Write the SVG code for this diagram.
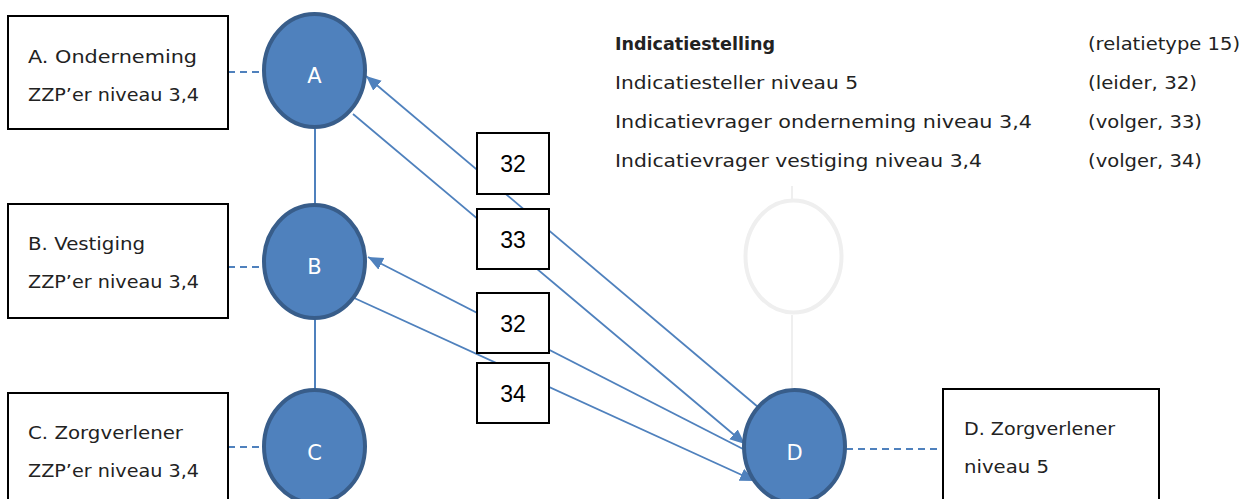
<svg xmlns="http://www.w3.org/2000/svg" width="1255" height="499" viewBox="0 0 1255 499">
<style>
.box{fill:#fff;stroke:#000;stroke-width:2}
.lbl{font-family:"DejaVu Sans",sans-serif;font-size:18px;fill:#222}
.node{fill:#4F81BD;stroke:#385D8A;stroke-width:4}
.ghost{fill:none;stroke:#EFEFEF;stroke-width:4}
.nt{font-family:"DejaVu Sans",sans-serif;font-size:21px;fill:#fff;text-anchor:middle}
.dash{stroke:#4F81BD;stroke-width:2;stroke-dasharray:7,5;fill:none}
.vl{stroke:#4F81BD;stroke-width:2;fill:none}
.gl{stroke:#EFEFEF;stroke-width:2;fill:none}
.arr{stroke:#4F81BD;stroke-width:1.8;fill:none;marker-end:url(#ah)}
.nb{fill:#fff;stroke:#000;stroke-width:2}
.num{font-family:"Liberation Sans",Arial,sans-serif;font-size:23px;fill:#000;text-anchor:middle}
.leg{font-family:"DejaVu Sans",sans-serif;font-size:18px;fill:#222}
</style>
<defs>
<marker id="ah" markerUnits="userSpaceOnUse" markerWidth="16" markerHeight="14" refX="15" refY="6.5" orient="auto">
<path d="M0,0 L15,6.5 L0,13 z" fill="#4F81BD"/>
</marker>
</defs>
<rect width="1255" height="499" fill="#fff"/>

<g id="legend">
<text class="leg" x="615" y="50" font-weight="bold" textLength="160" lengthAdjust="spacingAndGlyphs">Indicatiestelling</text>
<text class="leg" x="615" y="89" textLength="243" lengthAdjust="spacingAndGlyphs">Indicatiesteller niveau 5</text>
<text class="leg" x="615" y="128" textLength="417" lengthAdjust="spacingAndGlyphs">Indicatievrager onderneming niveau 3,4</text>
<text class="leg" x="615" y="167" textLength="367" lengthAdjust="spacingAndGlyphs">Indicatievrager vestiging niveau 3,4</text>
<text class="leg" x="1088" y="50" textLength="152" lengthAdjust="spacingAndGlyphs">(relatietype 15)</text>
<text class="leg" x="1088" y="89" textLength="109" lengthAdjust="spacingAndGlyphs">(leider, 32)</text>
<text class="leg" x="1088" y="128" textLength="114" lengthAdjust="spacingAndGlyphs">(volger, 33)</text>
<text class="leg" x="1088" y="167" textLength="114" lengthAdjust="spacingAndGlyphs">(volger, 34)</text>
</g>

<g id="ghost">
<line class="gl" x1="792" y1="186" x2="792" y2="199"/>
<line class="gl" x1="792" y1="315" x2="792" y2="389"/>
<ellipse class="ghost" cx="793.5" cy="256.5" rx="48" ry="56"/>
</g>

<g id="connectors">
<line class="dash" x1="228" y1="72" x2="262" y2="72"/>
<line class="dash" x1="228" y1="267" x2="262" y2="267"/>
<line class="dash" x1="228" y1="447" x2="262" y2="447"/>
<line class="dash" x1="846" y1="449" x2="943" y2="449"/>
<line class="vl" x1="315" y1="129" x2="315" y2="204"/>
<line class="vl" x1="315" y1="319" x2="315" y2="389"/>
<line class="arr" x1="758" y1="407" x2="366" y2="76"/>
<line class="arr" x1="353" y1="114" x2="745" y2="444"/>
<line class="arr" x1="745" y1="450" x2="368" y2="257"/>
<line class="arr" x1="352" y1="297" x2="755" y2="481"/>
</g>

<g id="edge-labels">
<g id="label-32a"><rect class="nb" x="477" y="133" width="72" height="61"/><text class="num" x="513" y="172">32</text></g>
<g id="label-33"><rect class="nb" x="477" y="209" width="72" height="60"/><text class="num" x="513" y="248">33</text></g>
<g id="label-32b"><rect class="nb" x="477" y="293" width="72" height="60"/><text class="num" x="513" y="332">32</text></g>
<g id="label-34"><rect class="nb" x="477" y="363" width="72" height="60"/><text class="num" x="513" y="402">34</text></g>
</g>

<g id="node-A">
<ellipse class="node" cx="314.5" cy="70.5" rx="50.5" ry="56.5"/>
<text class="nt" x="314.5" y="83">A</text>
</g>
<g id="node-B">
<ellipse class="node" cx="314.5" cy="261.5" rx="50.5" ry="56.5"/>
<text class="nt" x="314.5" y="274">B</text>
</g>
<g id="node-C">
<ellipse class="node" cx="314.5" cy="446.5" rx="50.5" ry="56.5"/>
<text class="nt" x="314.5" y="460">C</text>
</g>
<g id="node-D">
<ellipse class="node" cx="794.5" cy="446.5" rx="50.5" ry="56.5"/>
<text class="nt" x="794.5" y="460">D</text>
</g>

<g id="box-A">
<rect class="box" x="8" y="16" width="220" height="113"/>
<text class="lbl" x="28" y="63" textLength="169" lengthAdjust="spacingAndGlyphs">A. Onderneming</text>
<text class="lbl" x="28" y="101" textLength="171" lengthAdjust="spacingAndGlyphs">ZZP’er niveau 3,4</text>
</g>
<g id="box-B">
<rect class="box" x="8" y="204" width="220" height="114"/>
<text class="lbl" x="28" y="250" textLength="117" lengthAdjust="spacingAndGlyphs">B. Vestiging</text>
<text class="lbl" x="28" y="288" textLength="171" lengthAdjust="spacingAndGlyphs">ZZP’er niveau 3,4</text>
</g>
<g id="box-C">
<rect class="box" x="8" y="393" width="220" height="120"/>
<text class="lbl" x="28" y="439" textLength="155" lengthAdjust="spacingAndGlyphs">C. Zorgverlener</text>
<text class="lbl" x="28" y="477" textLength="171" lengthAdjust="spacingAndGlyphs">ZZP’er niveau 3,4</text>
</g>
<g id="box-D">
<rect class="box" x="943" y="389" width="216" height="120"/>
<text class="lbl" x="964" y="435" textLength="151" lengthAdjust="spacingAndGlyphs">D. Zorgverlener</text>
<text class="lbl" x="964" y="473" textLength="85" lengthAdjust="spacingAndGlyphs">niveau 5</text>
</g>
</svg>
